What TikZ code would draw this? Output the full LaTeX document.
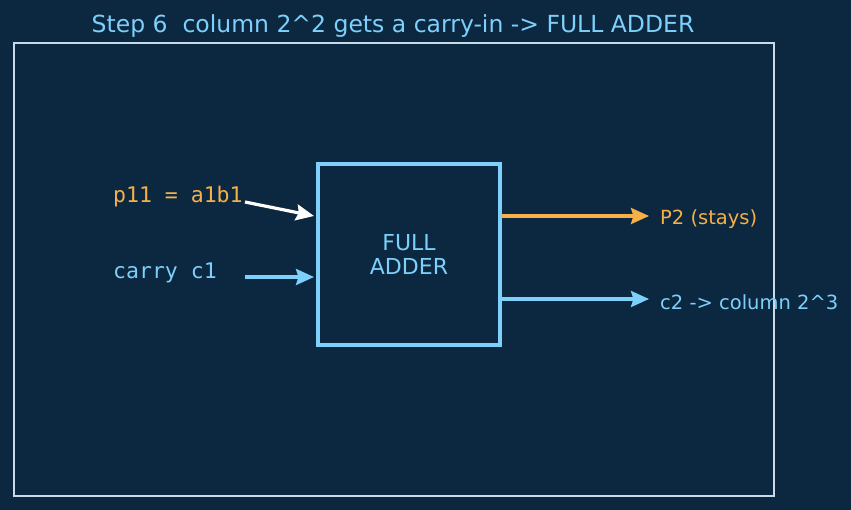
\documentclass[tikz,border=0pt]{standalone}
\usepackage{fontspec}
\setmainfont{DejaVu Sans}
\setmonofont{DejaVu Sans Mono}
\usepackage{xcolor}
\usetikzlibrary{arrows.meta}
\definecolor{adderbg}{RGB}{11, 40, 64}
\definecolor{adderblue}{RGB}{125, 208, 250}
\definecolor{adderorange}{RGB}{246, 176, 72}
\definecolor{adderframe}{RGB}{200, 218, 232}

\tikzset{
    wire/.style={line width=3.2pt, -{Stealth[length=18pt, width=16pt, inset=2.5pt]}},
    monolabel/.style={anchor=west, inner sep=0pt, font=\ttfamily\fontsize{21.5}{24}\selectfont},
    outlabel/.style={anchor=west, inner sep=0pt, font=\fontsize{19.5}{22}\selectfont}
}

\begin{document}
\begin{tikzpicture}[x=1pt, y=-1pt]
    \fill[adderbg] (0,0) rectangle (851,510);
    \useasboundingbox (0,0) rectangle (851,510);

    \node[text=adderblue, font=\fontsize{23.5}{26}\selectfont] (title) at (393,26) {Step 6\ \ column 2\^{}2 gets a carry-in -> FULL ADDER};
    \draw[adderframe, line width=1.8pt] (14,43) rectangle (774,496);

    \node[draw=adderblue, line width=3.6pt, minimum width=182pt, minimum height=181pt, inner sep=0pt,
          text=adderblue, align=center, font=\fontsize{22}{24}\selectfont] (adder) at (409,254.5) {FULL\\ADDER};

    \node[monolabel, text=adderorange] (p11) at (113,197) {p11 = a1b1};
    \node[monolabel, text=adderblue] (carry) at (113,273) {carry c1};
    \node[outlabel, text=adderorange] (ptwo) at (660,219.5) {P2 (stays)};
    \node[outlabel, text=adderblue] (ctwo) at (660,302.5) {c2 -> column 2\^{}3};

    % ends of the wires
    \coordinate (fromA) at (245,202);
    \coordinate (fromB) at (245,277);
    \coordinate (inA) at (314,216);
    \coordinate (inB) at (314,277);
    \coordinate (outA) at (502,216);
    \coordinate (outB) at (502,299);
    \coordinate (toA) at (649,216);
    \coordinate (toB) at (649,299);

    \draw[wire, white] (fromA) -- (inA);
    \draw[wire, adderblue] (fromB) -- (inB);
    \draw[wire, adderorange] (outA) -- (toA);
    \draw[wire, adderblue] (outB) -- (toB);
\end{tikzpicture}
\end{document}
